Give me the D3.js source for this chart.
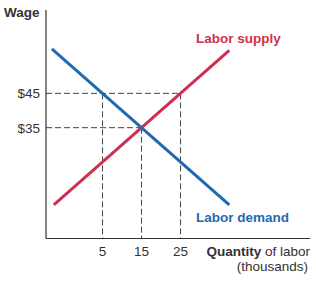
<!DOCTYPE html>
<html><head><meta charset="utf-8">
<script src="https://cdn.jsdelivr.net/npm/d3@7"></script>
<style>body{margin:0;background:#fff}svg{display:block}text{font-family:"Liberation Sans",Arial,sans-serif}</style>
</head><body>
<script>
const supply = [{q:-7.5,w:12.5},{q:37.5,w:57.5}];
const demand = [{q:-8,w:58},{q:37.5,w:12.5}];
const guides = [{q:5,w:45},{q:15,w:35},{q:25,w:45}];
const wageTicks = [45,35];
const wageLabels = ["$45","$35"];
const qtyTicks = [5,15,25];

const W=316,H=282;
const svg=d3.select("body").append("svg").attr("width",W).attr("height",H);
const x=d3.scaleLinear().domain([-9.5,58.2]).range([46,310]);
const y=d3.scaleLinear().domain([2.7,69.3]).range([238.5,10]);
const red="#cf2f4e", blue="#1f6aae", axisC="#333", txt="#333";

const dash="6,3";
guides.forEach(g=>{
  svg.append("line").attr("x1",x(g.q)).attr("x2",x(g.q)).attr("y1",y(g.w)).attr("y2",y(2.7))
    .attr("stroke","#444").attr("stroke-width",1).attr("stroke-dasharray",dash);
});
[{q:25,w:45},{q:15,w:35}].forEach(g=>{
  svg.append("line").attr("x1",x(-9.5)).attr("x2",x(g.q)).attr("y1",y(g.w)).attr("y2",y(g.w))
    .attr("stroke","#444").attr("stroke-width",1).attr("stroke-dasharray",dash);
});

svg.append("line").attr("x1",46).attr("x2",46).attr("y1",10).attr("y2",238.5).attr("stroke",axisC).attr("stroke-width",1.2);
svg.append("line").attr("x1",46).attr("x2",310).attr("y1",238.5).attr("y2",238.5).attr("stroke",axisC).attr("stroke-width",1.2);

const line=d3.line().x(d=>x(d.q)).y(d=>y(d.w));
svg.append("path").attr("d",line(supply)).attr("stroke",red).attr("stroke-width",3).attr("fill","none");
svg.append("path").attr("d",line(demand)).attr("stroke",blue).attr("stroke-width",3).attr("fill","none");

wageTicks.forEach((t,i)=>{
  svg.append("text").attr("x",40).attr("y",y(t)).attr("dy","0.36em").attr("text-anchor","end")
    .attr("font-size",13.5).attr("fill",txt).text(wageLabels[i]);
});
qtyTicks.forEach(t=>{
  svg.append("text").attr("x",x(t)).attr("y",256).attr("text-anchor","middle")
    .attr("font-size",13.5).attr("fill",txt).text(t);
});

svg.append("text").attr("x",4).attr("y",17).attr("font-size",13.5).attr("font-weight","bold").attr("fill",txt).text("Wage");
svg.append("text").attr("x",196).attr("y",42.5).attr("font-size",13.5).attr("font-weight","bold").attr("fill",red).text("Labor supply");
svg.append("text").attr("x",196).attr("y",221.5).attr("font-size",13.5).attr("font-weight","bold").attr("fill",blue).text("Labor demand");
const q=svg.append("text").attr("x",310).attr("y",256).attr("text-anchor","end").attr("font-size",13.5).attr("fill",txt);
q.append("tspan").attr("font-weight","bold").text("Quantity");
q.append("tspan").text(" of labor");
svg.append("text").attr("x",308).attr("y",271).attr("text-anchor","end").attr("font-size",13.5).attr("fill",txt).text("(thousands)");
</script>
</body></html>
